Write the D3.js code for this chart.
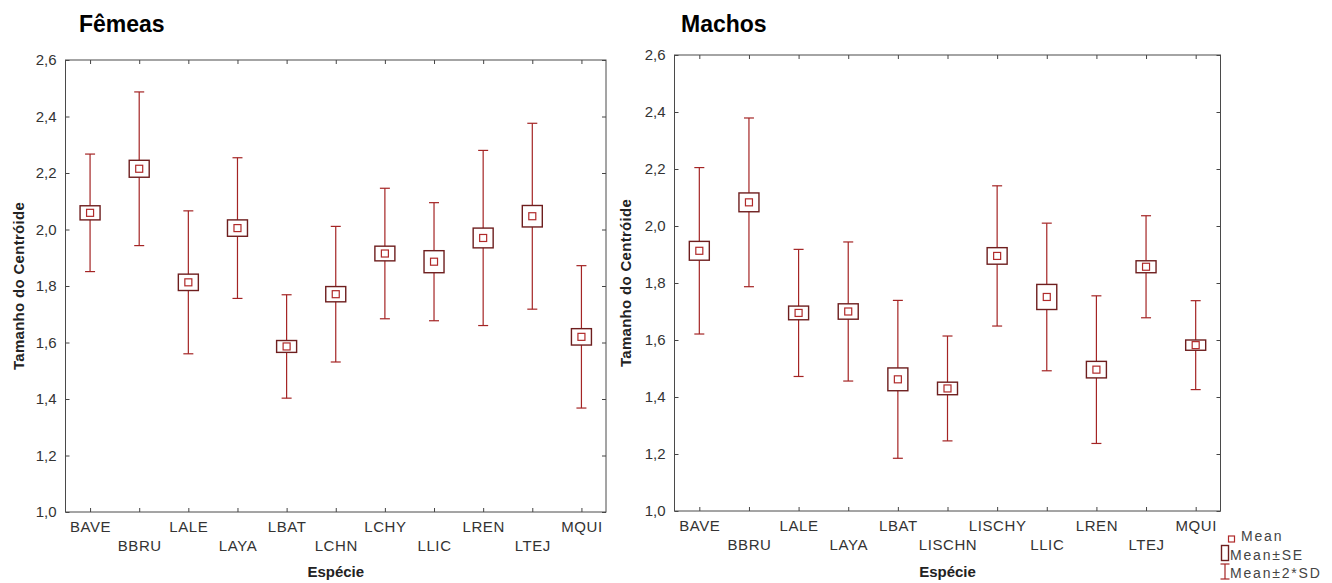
<!DOCTYPE html>
<html>
<head>
<meta charset="utf-8">
<style type="text/css">
	body {
		margin: 0;
		background: #ffffff;
	}
	.vis-centroid text {
		font-family: "Liberation Sans", Arial, sans-serif;
	}
	.frame {
		fill: none;
		stroke: #4a4a4a;
		stroke-width: 1;
	}
	.axis path {
		display: none;
	}
	.axis line {
		stroke: #444444;
	}
	.axis text {
		font-size: 15px;
		fill: #333333;
	}
	.x-axis text {
		letter-spacing: 0.6px;
	}
	.whisker {
		stroke: #a42424;
		stroke-width: 1.2;
		fill: none;
	}
	.se-box {
		fill: #ffffff;
		stroke: #6e1e1e;
		stroke-width: 1.4;
	}
	.mean-dot {
		fill: #ffffff;
		stroke: #b02a2a;
		stroke-width: 1.2;
	}
	.panel-title {
		font-size: 23px;
		font-weight: 700;
		fill: #000000;
	}
	.axis-label {
		font-size: 15px;
		font-weight: 700;
		fill: #222222;
	}
	.legend-label {
		font-size: 14px;
		letter-spacing: 1.8px;
		fill: #444444;
	}
</style>
</head>
<body>
<div class="vis-centroid"></div>

<script src="https://d3js.org/d3.v7.min.js"></script>
<script>

	// Data //
	// ---- //

	let femCats = ["BAVE", "BBRU", "LALE", "LAYA", "LBAT", "LCHN", "LCHY", "LLIC", "LREN", "LTEJ", "MQUI"];
	let femMean = [2.059, 2.215, 1.813, 2.005, 1.586, 1.771, 1.915, 1.886, 1.970, 2.047, 1.620];
	let femSE   = [0.025, 0.030, 0.029, 0.029, 0.021, 0.027, 0.026, 0.039, 0.035, 0.038, 0.029];
	let fem2SD  = [0.208, 0.272, 0.253, 0.249, 0.183, 0.240, 0.231, 0.209, 0.310, 0.329, 0.252];

	let macCats = ["BAVE", "BBRU", "LALE", "LAYA", "LBAT", "LISCHN", "LISCHY", "LLIC", "LREN", "LTEJ", "MQUI"];
	let macMean = [1.913, 2.083, 1.695, 1.700, 1.462, 1.430, 1.895, 1.751, 1.496, 1.857, 1.582];
	let macSE   = [0.033, 0.033, 0.024, 0.027, 0.040, 0.022, 0.029, 0.044, 0.029, 0.021, 0.018];
	let mac2SD  = [0.292, 0.296, 0.223, 0.244, 0.277, 0.184, 0.246, 0.259, 0.259, 0.179, 0.156];

	let yTicks = [1.0, 1.2, 1.4, 1.6, 1.8, 2.0, 2.2, 2.4, 2.6];
	let legendLabels = ["Mean", "Mean±SE", "Mean±2*SD"];

	// Setup //
	// ----- //

	let svg = d3.select(".vis-centroid")
		.append("svg")
			.attr("width", 1332)
			.attr("height", 583);

	let fmt = d => d3.format(".1f")(d).replace(".", ",");

	function panel(opts) {
		let g = svg.append("g")
			.attr("transform", "translate(" + opts.left + "," + opts.top + ")");

		let x = d3.scalePoint().domain(opts.cats).range([0, opts.width]).padding(0.5);
		let y = d3.scaleLinear().domain([1.0, 2.6]).range([opts.height, 0]);

		// AXES (ticks point inward)
		g.append("g")
			.attr("class", "axis")
			.call(d3.axisLeft(y).tickValues(yTicks).tickFormat(fmt).tickSize(-4).tickPadding(9));
		g.append("g")
			.attr("class", "axis")
			.attr("transform", "translate(" + opts.width + ",0)")
			.call(d3.axisRight(y).tickValues(yTicks).tickFormat("").tickSize(-4));
		g.append("g")
			.attr("class", "axis")
			.call(d3.axisTop(x).tickFormat("").tickSize(-4));
		let xa = g.append("g")
			.attr("class", "axis x-axis")
			.attr("transform", "translate(0," + opts.height + ")")
			.call(d3.axisBottom(x).tickSize(-4).tickPadding(0));
		xa.selectAll(".tick text")
			.attr("y", (d, i) => i % 2 ? 39 : 20)
			.attr("dy", 0);

		// FRAME
		g.append("rect")
			.attr("class", "frame")
			.attr("width", opts.width)
			.attr("height", opts.height);

		let rows = opts.cats.map((c, i) => ({cat: c, m: opts.mean[i], se: opts.se[i], sd: opts.sd2[i]}));

		// WHISKERS
		let wh = g.selectAll(".wh").data(rows).enter().append("g");
		wh.append("line")
			.attr("class", "whisker")
			.attr("x1", d => x(d.cat)).attr("x2", d => x(d.cat))
			.attr("y1", d => y(d.m + d.sd)).attr("y2", d => y(d.m - d.sd));
		wh.append("line")
			.attr("class", "whisker")
			.attr("x1", d => x(d.cat) - 5).attr("x2", d => x(d.cat) + 5)
			.attr("y1", d => y(d.m + d.sd)).attr("y2", d => y(d.m + d.sd));
		wh.append("line")
			.attr("class", "whisker")
			.attr("x1", d => x(d.cat) - 5).attr("x2", d => x(d.cat) + 5)
			.attr("y1", d => y(d.m - d.sd)).attr("y2", d => y(d.m - d.sd));

		// SE BOXES
		g.selectAll(".se-box").data(rows).enter().append("rect")
			.attr("class", "se-box")
			.attr("x", d => x(d.cat) - 10)
			.attr("width", 20)
			.attr("y", d => y(d.m + d.se))
			.attr("height", d => y(d.m - d.se) - y(d.m + d.se));

		// MEANS
		g.selectAll(".mean-dot").data(rows).enter().append("rect")
			.attr("class", "mean-dot")
			.attr("x", d => x(d.cat) - 3.5)
			.attr("y", d => y(d.m) - 3.5)
			.attr("width", 7)
			.attr("height", 7);

		// TITLE
		svg.append("text")
			.attr("class", "panel-title")
			.attr("x", opts.titleX)
			.attr("y", 32)
			.text(opts.title);

		// Y LABEL
		svg.append("text")
			.attr("class", "axis-label")
			.attr("transform", "translate(" + opts.ylabX + "," + (opts.top + opts.height / 2) + ") rotate(-90)")
			.style("text-anchor", "middle")
			.style("letter-spacing", "0.3px")
			.text("Tamanho do Centróide");

		// X LABEL
		svg.append("text")
			.attr("class", "axis-label")
			.attr("x", opts.left + opts.width / 2)
			.attr("y", 577)
			.style("text-anchor", "middle")
			.text("Espécie");
	}

	panel({left: 65.5, top: 60, width: 540.5, height: 452, cats: femCats, mean: femMean, se: femSE, sd2: fem2SD,
		title: "Fêmeas", titleX: 79, ylabX: 24});
	panel({left: 674.5, top: 55, width: 546, height: 456, cats: macCats, mean: macMean, se: macSE, sd2: mac2SD,
		title: "Machos", titleX: 681, ylabX: 631});

	// Legend //
	// ------ //

	let lg = svg.append("g");
	lg.append("rect")
		.attr("class", "mean-dot")
		.attr("x", 1228.5).attr("y", 536).attr("width", 6).attr("height", 6);
	lg.append("rect")
		.attr("class", "se-box")
		.attr("x", 1221.5).attr("y", 545.5).attr("width", 7).attr("height", 15);
	lg.append("line").attr("class", "whisker")
		.attr("x1", 1225).attr("x2", 1225).attr("y1", 564).attr("y2", 579);
	lg.append("line").attr("class", "whisker")
		.attr("x1", 1220.5).attr("x2", 1229.5).attr("y1", 564).attr("y2", 564);
	lg.append("line").attr("class", "whisker")
		.attr("x1", 1220.5).attr("x2", 1229.5).attr("y1", 579).attr("y2", 579);

	lg.selectAll(".legend-label").data(legendLabels).enter().append("text")
		.attr("class", "legend-label")
		.attr("x", (d, i) => i == 0 ? 1241 : 1230)
		.attr("y", (d, i) => [541, 560, 578][i])
		.text(d => d);

</script>
</body>
</html>
